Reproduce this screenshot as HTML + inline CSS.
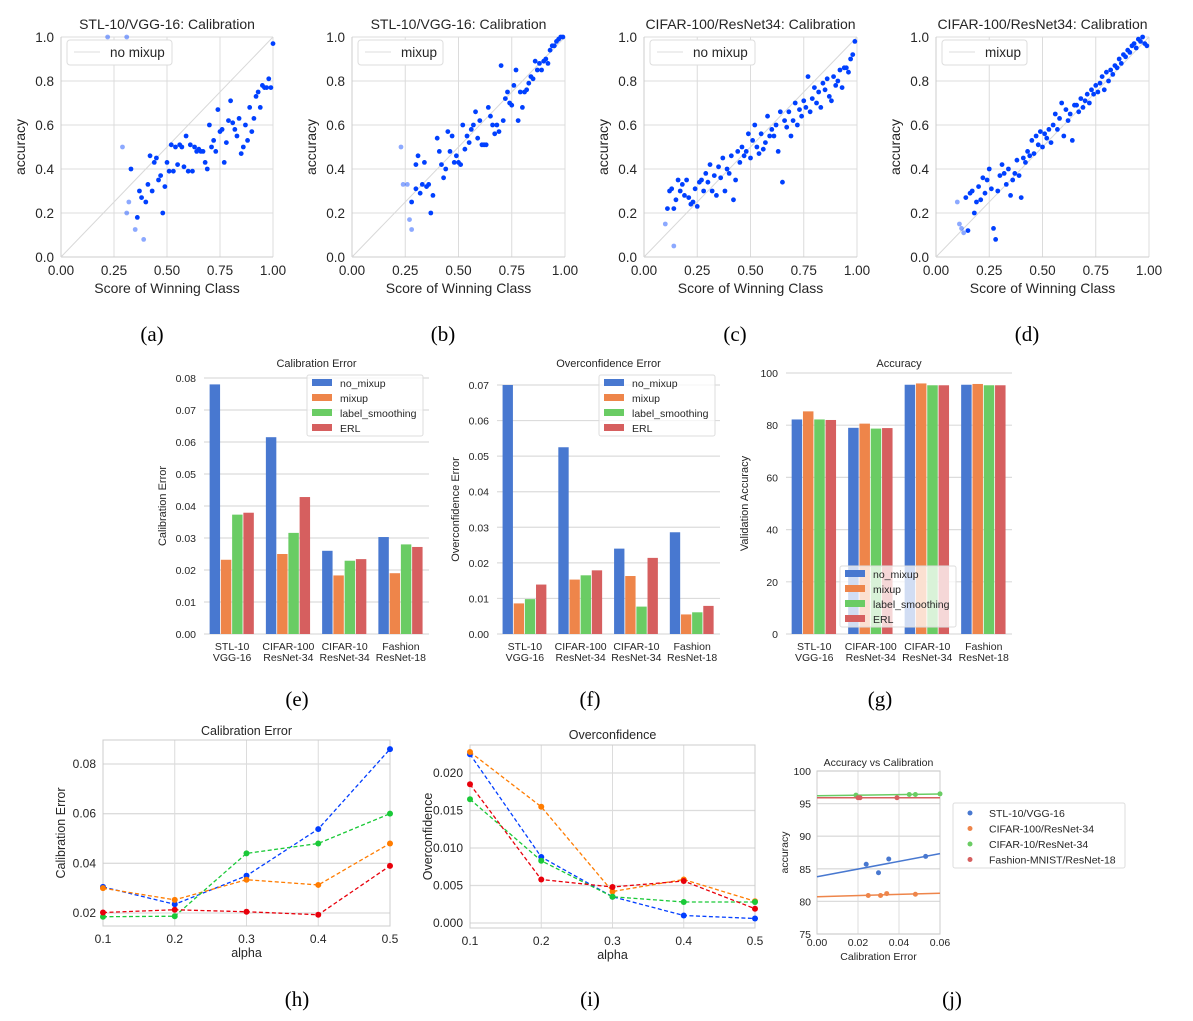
<!DOCTYPE html>
<html><head><meta charset="utf-8"><style>
html,body{margin:0;padding:0;background:#fff;}
svg{display:block;font-family:"Liberation Sans",sans-serif;}
.cap{font-family:"Liberation Serif",serif;font-size:21px;fill:#000;}
</style></head><body>
<svg id="fig" width="1193" height="1021" viewBox="0 0 1193 1021" xmlns="http://www.w3.org/2000/svg"></svg>
<script>
// ---------- DATA ----------
const aScore=[0.22,0.31,0.29,0.31,0.32,0.35,0.39,0.36,0.33,0.37,0.38,0.40,0.41,0.43,0.42,0.44,0.45,0.46,0.47,0.48,0.49,0.50,0.51,0.52,0.53,0.54,0.55,0.56,0.57,0.58,0.59,0.60,0.61,0.62,0.63,0.64,0.65,0.66,0.67,0.68,0.69,0.70,0.71,0.72,0.73,0.74,0.75,0.76,0.77,0.78,0.79,0.80,0.81,0.82,0.83,0.84,0.85,0.86,0.87,0.88,0.89,0.90,0.91,0.92,0.93,0.94,0.95,0.96,0.97,0.98,0.99,1.0];
const aAcc=[1.0,1.0,0.5,0.2,0.25,0.125,0.08,0.18,0.4,0.3,0.27,0.25,0.33,0.3,0.46,0.43,0.45,0.35,0.37,0.2,0.32,0.43,0.39,0.51,0.39,0.5,0.42,0.51,0.5,0.41,0.55,0.39,0.51,0.39,0.5,0.48,0.49,0.48,0.48,0.43,0.4,0.6,0.5,0.53,0.48,0.67,0.57,0.58,0.43,0.52,0.62,0.71,0.61,0.58,0.55,0.63,0.47,0.5,0.6,0.53,0.68,0.57,0.63,0.73,0.75,0.68,0.78,0.77,0.77,0.81,0.77,0.97];
const aLight=7;
const bScore=[0.23,0.24,0.26,0.27,0.28,0.28,0.30,0.31,0.30,0.33,0.32,0.34,0.35,0.36,0.37,0.38,0.40,0.41,0.42,0.43,0.44,0.45,0.46,0.47,0.48,0.49,0.50,0.51,0.52,0.53,0.54,0.55,0.56,0.57,0.58,0.59,0.60,0.61,0.62,0.63,0.64,0.65,0.66,0.67,0.68,0.69,0.70,0.71,0.72,0.73,0.74,0.75,0.76,0.77,0.78,0.79,0.80,0.81,0.82,0.83,0.84,0.85,0.86,0.87,0.88,0.89,0.90,0.91,0.92,0.93,0.94,0.95,0.96,0.97,0.98,0.99];
const bAcc=[0.5,0.33,0.33,0.17,0.125,0.25,0.31,0.46,0.42,0.33,0.29,0.43,0.32,0.33,0.2,0.28,0.54,0.48,0.42,0.36,0.4,0.57,0.48,0.55,0.43,0.46,0.43,0.42,0.6,0.49,0.55,0.52,0.58,0.6,0.66,0.54,0.62,0.51,0.51,0.51,0.68,0.64,0.6,0.56,0.6,0.57,0.87,0.62,0.72,0.75,0.7,0.69,0.78,0.85,0.62,0.75,0.68,0.75,0.76,0.79,0.82,0.81,0.89,0.85,0.88,0.85,0.89,0.9,0.88,0.94,0.96,0.96,0.98,0.99,1.0,1.0];
const bLight=5;
const cScore=[0.10,0.14,0.11,0.12,0.13,0.14,0.15,0.16,0.17,0.18,0.19,0.20,0.21,0.22,0.23,0.24,0.25,0.26,0.27,0.28,0.29,0.30,0.31,0.32,0.33,0.34,0.35,0.36,0.37,0.38,0.39,0.40,0.41,0.42,0.43,0.44,0.45,0.46,0.47,0.48,0.49,0.50,0.51,0.52,0.53,0.54,0.55,0.56,0.57,0.58,0.59,0.60,0.61,0.62,0.63,0.64,0.65,0.66,0.67,0.68,0.69,0.70,0.71,0.72,0.73,0.74,0.75,0.76,0.77,0.78,0.79,0.80,0.81,0.82,0.83,0.84,0.85,0.86,0.87,0.88,0.89,0.90,0.91,0.92,0.93,0.94,0.95,0.96,0.97,0.98,0.99];
const cAcc=[0.15,0.05,0.22,0.3,0.31,0.22,0.26,0.35,0.3,0.33,0.28,0.35,0.27,0.24,0.25,0.31,0.23,0.34,0.35,0.3,0.38,0.34,0.42,0.3,0.37,0.28,0.41,0.36,0.45,0.3,0.4,0.38,0.46,0.26,0.35,0.48,0.43,0.5,0.46,0.48,0.56,0.45,0.53,0.6,0.5,0.47,0.56,0.49,0.52,0.64,0.55,0.58,0.55,0.6,0.48,0.66,0.34,0.62,0.59,0.66,0.55,0.62,0.7,0.6,0.67,0.64,0.71,0.68,0.82,0.66,0.72,0.77,0.7,0.75,0.68,0.79,0.76,0.81,0.73,0.71,0.82,0.78,0.8,0.85,0.77,0.86,0.86,0.84,0.9,0.92,0.98];
const cLight=2;
const dScore=[0.10,0.11,0.12,0.13,0.14,0.15,0.16,0.17,0.18,0.19,0.20,0.21,0.22,0.23,0.24,0.25,0.26,0.27,0.28,0.29,0.30,0.31,0.32,0.33,0.34,0.35,0.36,0.37,0.38,0.39,0.40,0.41,0.42,0.43,0.44,0.45,0.46,0.47,0.48,0.49,0.50,0.51,0.52,0.53,0.54,0.55,0.56,0.57,0.58,0.59,0.60,0.61,0.62,0.63,0.64,0.65,0.66,0.67,0.68,0.69,0.70,0.71,0.72,0.73,0.74,0.75,0.76,0.77,0.78,0.79,0.80,0.81,0.82,0.83,0.84,0.85,0.86,0.87,0.88,0.89,0.90,0.91,0.92,0.93,0.94,0.95,0.96,0.97,0.98,0.99];
const dAcc=[0.25,0.15,0.13,0.11,0.27,0.12,0.29,0.3,0.2,0.25,0.32,0.26,0.36,0.29,0.35,0.4,0.31,0.13,0.08,0.3,0.37,0.42,0.38,0.33,0.4,0.28,0.35,0.38,0.44,0.37,0.27,0.45,0.43,0.48,0.46,0.53,0.47,0.55,0.51,0.57,0.5,0.56,0.54,0.58,0.52,0.6,0.65,0.58,0.63,0.7,0.55,0.67,0.62,0.65,0.53,0.69,0.69,0.66,0.72,0.68,0.71,0.74,0.7,0.76,0.74,0.78,0.75,0.79,0.82,0.76,0.84,0.8,0.85,0.83,0.87,0.86,0.9,0.88,0.92,0.91,0.94,0.93,0.96,0.97,0.95,0.99,0.98,1.0,0.97,0.96];
const dLight=4;

const barCats=[["STL-10","VGG-16"],["CIFAR-100","ResNet-34"],["CIFAR-10","ResNet-34"],["Fashion","ResNet-18"]];
const barSeries=["no_mixup","mixup","label_smoothing","ERL"];
const calNoMix=[0.078,0.0615,0.026,0.0303];
const calMixup=[0.0232,0.025,0.0183,0.019];
const calLS=[0.0373,0.0316,0.0229,0.028];
const calERL=[0.0379,0.0428,0.0234,0.0272];
const ovNoMix=[0.070,0.0525,0.024,0.0286];
const ovMixup=[0.0086,0.0153,0.0163,0.0055];
const ovLS=[0.0098,0.0165,0.0077,0.0061];
const ovERL=[0.0139,0.0179,0.0214,0.0079];
const accNoMix=[82.2,79.0,95.5,95.5];
const accMixup=[85.3,80.6,96.0,95.8];
const accLS=[82.2,78.7,95.3,95.3];
const accERL=[82.0,78.9,95.3,95.3];
const calTicks=["0.00","0.01","0.02","0.03","0.04","0.05","0.06","0.07","0.08"];
const ovTicks=["0.00","0.01","0.02","0.03","0.04","0.05","0.06","0.07"];
const accTicks=["0","20","40","60","80","100"];

const alphas=[0.1,0.2,0.3,0.4,0.5];
const hBlue=[0.0305,0.0235,0.035,0.0538,0.086];
const hOrange=[0.030,0.0253,0.0334,0.0313,0.048];
const hGreen=[0.0185,0.0187,0.044,0.048,0.060];
const hRed=[0.0202,0.0213,0.0205,0.0193,0.039];
const iBlue=[0.0225,0.0088,0.0035,0.001,0.0006];
const iOrange=[0.0228,0.0155,0.0042,0.0058,0.0029];
const iGreen=[0.0165,0.0083,0.0035,0.0028,0.0028];
const iRed=[0.0185,0.0058,0.0048,0.0056,0.0019];
const hTicks=[0.02,0.04,0.06,0.08];
const iTicks=[0,0.005,0.01,0.015,0.02];

const jNames=["STL-10/VGG-16","CIFAR-100/ResNet-34","CIFAR-10/ResNet-34","Fashion-MNIST/ResNet-18"];
const jCalSTL=[0.024,0.030,0.035,0.053];
const jAccSTL=[85.7,84.4,86.5,86.9];
const jCalC100=[0.025,0.031,0.034,0.048];
const jAccC100=[80.9,80.9,81.2,81.1];
const jCalC10=[0.019,0.045,0.048,0.060];
const jAccC10=[96.3,96.4,96.4,96.5];
const jCalFM=[0.020,0.021,0.039];
const jAccFM=[95.9,95.9,95.9];

// ---------- HELPERS ----------
const NS="http://www.w3.org/2000/svg";
const fig=document.getElementById('fig');
function mk(tag,attrs,parent){const e=document.createElementNS(NS,tag);for(const k in attrs)e.setAttribute(k,attrs[k]);(parent||fig).appendChild(e);return e;}
function txt(s,x,y,size,anchor,parent,extra){const t=mk('text',Object.assign({x:x,y:y,'font-size':size,'text-anchor':anchor||'middle',fill:'#262626'},extra||{}),parent);t.textContent=s;return t;}
function lin(d0,d1,p0,p1){return v=>p0+(v-d0)*(p1-p0)/(d1-d0);}
const GRID='#dcdcdc';
const MUTED=['#4878d0','#ee854a','#6acc64','#d65f5f'];
const BRIGHT=['#023eff','#ff7c00','#1ac938','#e8000b'];

// ---------- SCATTER ----------
function scatter(name,x0,x1,title,leg,xs,ys,nLight){
  const g=mk('g',{});
  
  
  const X=lin(0,1,x0,x1),Y=lin(0,1,257,37);
  for(let i=0;i<=4;i++){const v=i*0.25;mk('line',{x1:X(v),x2:X(v),y1:37,y2:257,stroke:GRID,'stroke-width':1},g);
    const t=txt(v.toFixed(2),X(v),275,13.5,'middle',g);}
  for(let i=0;i<=5;i++){const v=i*0.2;mk('line',{x1:x0,x2:x1,y1:Y(v),y2:Y(v),stroke:GRID,'stroke-width':1},g);
    const t=txt(v.toFixed(1),x0-7,Y(v)+5,13.5,'end',g);}
  mk('line',{x1:x0,x2:x0,y1:37,y2:257,stroke:'#cccccc'},g);
  mk('line',{x1:x0,x2:x1,y1:257,y2:257,stroke:'#cccccc'},g);
  const diag=mk('line',{x1:X(0),y1:Y(0),x2:X(1),y2:Y(1),stroke:'#d8d8d8','stroke-width':1},g);
  
  
  const tt=txt(title,(x0+x1)/2,29,14,'middle',g);
  const xl=txt('Score of Winning Class',(x0+x1)/2,293,14,'middle',g);
  const yl=txt('accuracy',0,0,14,'middle',g,{transform:`translate(${x0-36},147) rotate(-90)`});
  const lw=leg.length>6?105:85;
  const lg=mk('g',{},g);
  
  
  mk('rect',{x:x0+6,y:40,width:lw,height:25,rx:3,fill:'#fff',stroke:'#dddddd'},lg);
  mk('line',{x1:x0+13,x2:x0+39,y1:52,y2:52,stroke:'#dddddd'},lg);
  txt(leg,x0+49,57,13.5,'start',lg);
  xs.forEach((v,i)=>{const c=mk('circle',{cx:X(v),cy:Y(ys[i]),r:2.4,fill:'#0040ff','fill-opacity':i<nLight?0.45:1},g);
    
    });
}
scatter('scatter-a',61,273,'STL-10/VGG-16: Calibration','no mixup',aScore,aAcc,aLight);
scatter('scatter-b',352,565,'STL-10/VGG-16: Calibration','mixup',bScore,bAcc,bLight);
scatter('scatter-c',644,857,'CIFAR-100/ResNet34: Calibration','no mixup',cScore,cAcc,cLight);
scatter('scatter-d',936,1149,'CIFAR-100/ResNet34: Calibration','mixup',dScore,dAcc,dLight);

// ---------- BARS ----------
function bars(name,x0,x1,yTop,ymax,ticks,tickStep,title,ytitle,series,legPos){
  const g=mk('g',{});
  
  
  const Y=lin(0,ymax,634,yTop);
  ticks.forEach((s,i)=>{const v=i*tickStep;mk('line',{x1:x0,x2:x1,y1:Y(v),y2:Y(v),stroke:GRID,'stroke-width':1.2},g);
    const t=txt(s,x0-8,Y(v)+4,10.5,'end',g);});
  const tt=txt(title,(x0+x1)/2,367,11,'middle',g);
  const yl=txt(ytitle,0,0,11,'middle',g,{transform:`translate(${x0-38},${(634+yTop)/2}) rotate(-90)`});
  const gw=(x1-x0)/4,bw=gw*0.8/4;
  barCats.forEach((c,k)=>{const cx=x0+gw*(k+0.5);
    const t1=txt(c[0],cx,650,10.5,'middle',g);
    const t2=txt(c[1],cx,661,10.5,'middle',g);
    series.forEach((arr,s)=>{const v=arr[k];const r=mk('rect',{x:cx-gw*0.4+s*bw,y:Y(v),width:bw-0.8,height:634-Y(v),fill:MUTED[s]},g);
      
      });
  });
  const lg=mk('g',{},g);
  
  
  mk('rect',{x:legPos[0],y:legPos[1],width:116,height:61,fill:'#fff','fill-opacity':0.75,stroke:'#dddddd',rx:2},lg);
  barSeries.forEach((s,i)=>{mk('rect',{x:legPos[0]+5,y:legPos[1]+4+i*15,width:20,height:7,fill:MUTED[i]},lg);
    txt(s,legPos[0]+33,legPos[1]+12+i*15,10.5,'start',lg);});
}
bars('bar-chart-calibration',204,429,378,0.08,calTicks,0.01,'Calibration Error','Calibration Error',[calNoMix,calMixup,calLS,calERL],[307,375]);
bars('bar-chart-overconfidence',497,720,385,0.07,ovTicks,0.01,'Overconfidence Error','Overconfidence Error',[ovNoMix,ovMixup,ovLS,ovERL],[599,375]);
bars('bar-chart-accuracy',786,1012,373,100,accTicks,20,'Accuracy','Validation Accuracy',[accNoMix,accMixup,accLS,accERL],[840,566]);

// ---------- LINES ----------
function lines(name,x0,x1,yTop,yBot,v0,p0,v1,p1,ticks,fmt,title,titleY,ytitle,series){
  const g=mk('g',{});
  
  
  const X=lin(0.1,0.5,x0,x1),Y=lin(v0,v1,p0,p1);
  alphas.forEach(a=>{mk('line',{x1:X(a),x2:X(a),y1:yTop,y2:yBot,stroke:GRID},g);
    const t=txt(a.toString(),X(a),yBot+17,12,'middle',g);});
  ticks.forEach(v=>{mk('line',{x1:x0,x2:x1,y1:Y(v),y2:Y(v),stroke:GRID,'stroke-width':1.3},g);
    const t=txt(v.toFixed(fmt),x0-7,Y(v)+4,12,'end',g);});
  mk('rect',{x:x0,y:yTop,width:x1-x0,height:yBot-yTop,fill:'none',stroke:'#cccccc'},g);
  const tt=txt(title,(x0+x1)/2,titleY,12.5,'middle',g);
  const xl=txt('alpha',(x0+x1)/2,yBot+31,12.5,'middle',g);
  const yl=txt(ytitle,0,0,12.5,'middle',g,{transform:`translate(${x0-38},${(yTop+yBot)/2}) rotate(-90)`});
  series.forEach((arr,s)=>{const pts=arr.map((v,i)=>X(alphas[i])+','+Y(v)).join(' ');
    const pl=mk('polyline',{points:pts,fill:'none',stroke:BRIGHT[s],'stroke-width':1.3,'stroke-dasharray':'4,2.5'},g);
    
    
    arr.forEach((v,i)=>{const c=mk('circle',{cx:X(alphas[i]),cy:Y(v),r:3,fill:BRIGHT[s]},g);
      
      });});
}
lines('line-chart-calibration',103,390,740,926,0.02,913,0.08,764,hTicks,2,'Calibration Error',735,'Calibration Error',[hBlue,hOrange,hGreen,hRed]);
lines('line-chart-overconfidence',470,755,745,928,0,923,0.02,773,iTicks,3,'Overconfidence',739,'Overconfidence',[iBlue,iOrange,iGreen,iRed]);

// ---------- J ----------
(function(){
  const g=mk('g',{});
  
  
  const x0=817,x1=940,yT=771,yB=934;
  const X=lin(0,0.06,x0,x1),Y=lin(75,100,yB,yT);
  [0,0.02,0.04,0.06].forEach(v=>{mk('line',{x1:X(v),x2:X(v),y1:yT,y2:yB,stroke:GRID},g);
    const t=txt(v.toFixed(2),X(v),yB+12,10.5,'middle',g);});
  [75,80,85,90,95,100].forEach(v=>{mk('line',{x1:x0,x2:x1,y1:Y(v),y2:Y(v),stroke:GRID,'stroke-width':1.3},g);
    const t=txt(String(v),x0-6,Y(v)+4,10.5,'end',g);});
  mk('rect',{x:x0,y:yT,width:x1-x0,height:yB-yT,fill:'none',stroke:'#cccccc'},g);
  const tt=txt('Accuracy vs Calibration',(x0+x1)/2,766,10.5,'middle',g);
  const xl=txt('Calibration Error',(x0+x1)/2,960,10.5,'middle',g);
  const yl=txt('accuracy',0,0,10.5,'middle',g,{transform:`translate(${x0-29},${(yT+yB)/2}) rotate(-90)`});
  const sets=[[jCalSTL,jAccSTL],[jCalC100,jAccC100],[jCalC10,jAccC10],[jCalFM,jAccFM]];
  sets.forEach(([xs,ys],s)=>{const n=xs.length,mx=xs.reduce((a,b)=>a+b)/n,my=ys.reduce((a,b)=>a+b)/n;
    let sxy=0,sxx=0;xs.forEach((x,i)=>{sxy+=(x-mx)*(ys[i]-my);sxx+=(x-mx)*(x-mx);});
    const b=sxx?sxy/sxx:0,a=my-b*mx;
    const rl=mk('line',{x1:X(0),y1:Y(a),x2:X(0.06),y2:Y(a+b*0.06),stroke:MUTED[s],'stroke-width':1.5},g);
    
    
    xs.forEach((x,i)=>{const c=mk('circle',{cx:X(x),cy:Y(ys[i]),r:2.5,fill:MUTED[s]},g);
      
      });});
  const lg=mk('g',{},g);
  
  
  mk('rect',{x:953,y:803,width:172,height:65,fill:'#fff',stroke:'#dddddd',rx:2},lg);
  jNames.forEach((n,i)=>{mk('circle',{cx:970,cy:813+i*15.5,r:2.5,fill:MUTED[i]},lg);txt(n,989,817+i*15.5,10.5,'start',lg);});
})();

// ---------- CAPTIONS ----------
[['(a)',152,341],['(b)',443,341],['(c)',735,341],['(d)',1027,341],['(e)',297,706],['(f)',590,706],['(g)',880,706],['(h)',297,1006],['(i)',590,1006],['(j)',952,1006]].forEach(c=>{
  const t=mk('text',{x:c[1],y:c[2],'text-anchor':'middle',class:'cap'});t.textContent=c[0];
  
  
});
</script>
</body></html>
